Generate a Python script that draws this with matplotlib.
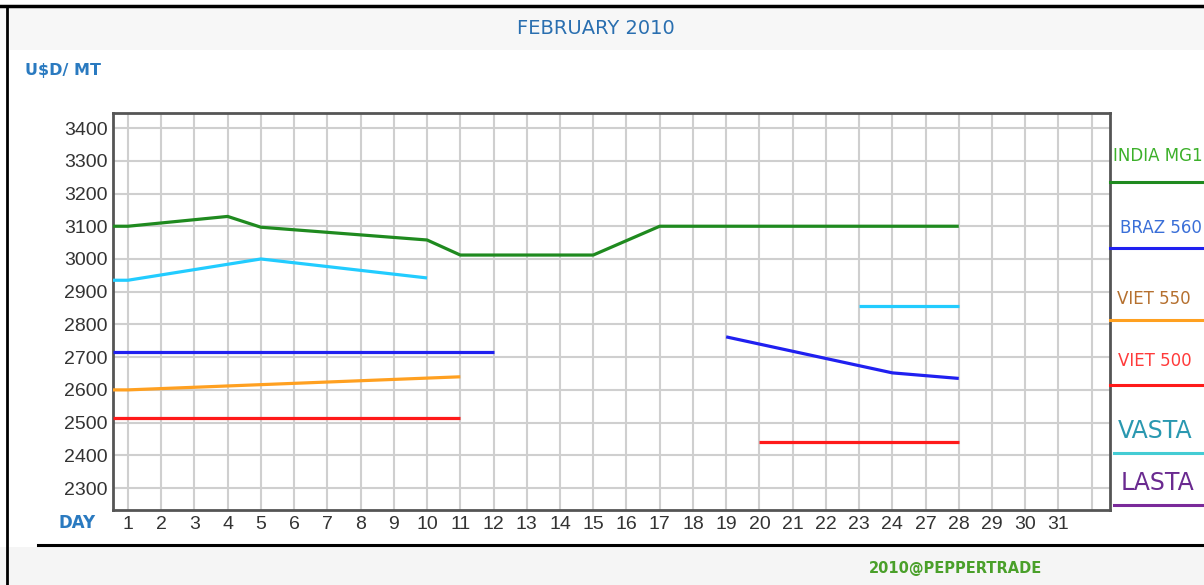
import matplotlib
matplotlib.use('Agg')
import matplotlib.pyplot as plt
from matplotlib.lines import Line2D
from matplotlib.patches import Rectangle

# x categories (the source chart skips 25 and 26)
days = ['1', '2', '3', '4', '5', '6', '7', '8', '9', '10', '11', '12', '13',
        '14', '15', '16', '17', '18', '19', '20', '21', '22', '23', '24',
        '27', '28', '29', '30', '31']
y_ticks = [2300, 2400, 2500, 2600, 2700, 2800, 2900, 3000, 3100, 3200, 3300, 3400]

# INDIA MG1
india_days = [1, 4, 5, 10, 11, 15, 17, 28]
india_vals = [3100, 3130, 3097, 3058, 3012, 3012, 3100, 3100]
# BRAZ 560
braz_a_days = [1, 12]
braz_a_vals = [2717, 2717]
braz_b_days = [19, 24, 28]
braz_b_vals = [2762, 2652, 2635]
# VIET 550
viet550_days = [1, 11]
viet550_vals = [2600, 2640]
# VIET 500
viet500_a_days = [1, 11]
viet500_a_vals = [2515, 2515]
viet500_b_days = [20, 28]
viet500_b_vals = [2440, 2440]
# cyan line
cyan_a_days = [1, 5, 10]
cyan_a_vals = [2935, 3000, 2942]
cyan_b_days = [23, 28]
cyan_b_vals = [2855, 2855]

legend_labels = ['INDIA MG1', 'BRAZ 560', 'VIET 550', 'VIET 500', 'VASTA', 'LASTA']
legend_text_colors = ['#3cb02a', '#3a6fd8', '#b5702f', '#ff3b3b', '#2a98b0', '#6a2a90']
legend_line_colors = ['#1f8a1f', '#2020f0', '#ffa020', '#ff1a1a', '#44ccd4', '#7a2a9a']

W, H = 1204, 585
X_MIN, X_MAX = -0.45, 29.55

GREEN = '#1f8a1f'
BLUE = '#2020f0'
ORANGE = '#ffa020'
RED = '#ff1a1a'
CYAN = '#22ccff'


def fx(px):
    return px / W


def fy(py):
    return 1 - py / H


def pos(d):
    return days.index(str(d))


def draw(ax, d, v, color, from_edge=False):
    xs = [pos(i) for i in d]
    ys = list(v)
    if from_edge:
        xs = [X_MIN] + xs
        ys = [ys[0]] + ys
    ax.plot(xs, ys, color=color, lw=2.3, solid_capstyle='butt', zorder=3)


fig = plt.figure(figsize=(W / 100, H / 100), dpi=100)
fig.patch.set_facecolor('white')

# bands and frame
fig.patches.append(Rectangle((0, fy(50)), 1, fy(8) - fy(50), transform=fig.transFigure,
                             facecolor='#f7f7f7', edgecolor='none', zorder=0))
fig.patches.append(Rectangle((0, 0), 1, fy(547), transform=fig.transFigure,
                             facecolor='#f5f5f5', edgecolor='none', zorder=0))
fig.lines.append(Line2D([0, 1], [fy(6), fy(6)], transform=fig.transFigure, color='black', lw=2.5))
fig.lines.append(Line2D([fx(7), fx(7)], [0, fy(6)], transform=fig.transFigure, color='black', lw=2))
fig.lines.append(Line2D([fx(38), 1], [fy(545), fy(545)], transform=fig.transFigure, color='black', lw=2.2))

ax = fig.add_axes([fx(113), fy(510), fx(1110) - fx(113), fy(113) - fy(510)])
ax.set_xlim(X_MIN, X_MAX)
ax.set_ylim(2233, 3446)

ax.set_xticks(range(len(days) + 1))
ax.set_xticklabels(days + [''])
ax.set_yticks(y_ticks)
ax.set_yticklabels([str(t) for t in y_ticks])
ax.tick_params(length=0, labelsize=14, labelcolor='#333333', pad=4)
for lab in ax.get_xticklabels() + ax.get_yticklabels():
    lab.set_family('Liberation Sans')
ax.grid(True, color='#cfcfcf', lw=1.5)
ax.set_axisbelow(True)
for side in ['top', 'right', 'bottom', 'left']:
    ax.spines[side].set_color('#555555')
    ax.spines[side].set_linewidth(2)

draw(ax, india_days, india_vals, GREEN, from_edge=True)
draw(ax, cyan_a_days, cyan_a_vals, CYAN, from_edge=True)
draw(ax, cyan_b_days, cyan_b_vals, CYAN)
draw(ax, braz_a_days, braz_a_vals, BLUE, from_edge=True)
draw(ax, braz_b_days, braz_b_vals, BLUE)
draw(ax, viet550_days, viet550_vals, ORANGE, from_edge=True)
draw(ax, viet500_a_days, viet500_a_vals, RED, from_edge=True)
draw(ax, viet500_b_days, viet500_b_vals, RED)

# texts
fig.text(fx(596), fy(29), 'FEBRUARY 2010', color='#2a6fb0', fontsize=14,
         ha='center', va='center', family='DejaVu Sans')
fig.text(fx(25), fy(70), 'U\\$D/ MT', color='#2a7ac0', fontsize=11.5,
         ha='left', va='center', family='DejaVu Sans', weight='bold')
fig.text(fx(59), fy(523), 'DAY', color='#2a7ac0', fontsize=12,
         ha='left', va='center', family='DejaVu Sans', weight='bold')
fig.text(fx(956), fy(568), '2010@PEPPERTRADE', color='#4aa02a', fontsize=10.5,
         ha='center', va='center', family='DejaVu Sans', weight='bold')

# right side key
text_y = [156, 228, 299, 361, 431, 483]
text_x = [1113, 1120, 1117, 1118, 1118, 1121]
text_size = [12, 12, 12, 12, 17, 17]
line_y = [182, 248, 320, 385, 453, 505]
line_x0 = [1110, 1110, 1110, 1110, 1114, 1114]
for i, lab in enumerate(legend_labels):
    fig.text(fx(text_x[i]), fy(text_y[i]), lab, color=legend_text_colors[i],
             fontsize=text_size[i], ha='left', va='center', family='DejaVu Sans')
    fig.lines.append(Line2D([fx(line_x0[i]), 1], [fy(line_y[i]), fy(line_y[i])],
                            transform=fig.transFigure, color=legend_line_colors[i], lw=2.2))

fig.savefig('out.png', dpi=100)
